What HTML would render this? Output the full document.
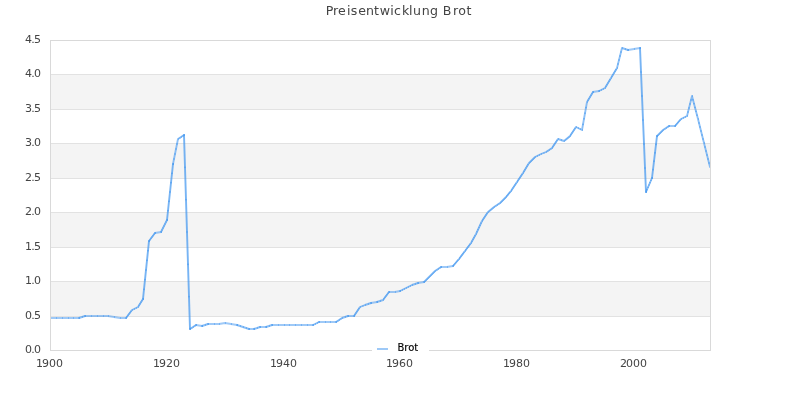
<!DOCTYPE html>
<html lang="de">
<head>
<meta charset="utf-8">
<title>Preisentwicklung Brot</title>
<style>
html,body{margin:0;padding:0;background:#fff;}
body{width:800px;height:400px;overflow:hidden;font-family:"DejaVu Sans","Liberation Sans",sans-serif;}
svg{display:block;}
text{font-family:"DejaVu Sans","Liberation Sans",sans-serif;}
</style>
</head>
<body>
<svg width="800" height="400" viewBox="0 0 800 400">
<rect x="0" y="0" width="800" height="400" fill="#ffffff"/>

<rect x="51" y="75" width="659" height="34" fill="#f4f4f4"/>
<rect x="51" y="144" width="659" height="34" fill="#f4f4f4"/>
<rect x="51" y="213" width="659" height="34" fill="#f4f4f4"/>
<rect x="51" y="282" width="659" height="34" fill="#f4f4f4"/>
<line x1="50.5" y1="316.5" x2="710.5" y2="316.5" stroke="#e2e2e2" stroke-width="1"/>
<line x1="50.5" y1="281.5" x2="710.5" y2="281.5" stroke="#e2e2e2" stroke-width="1"/>
<line x1="50.5" y1="247.5" x2="710.5" y2="247.5" stroke="#e2e2e2" stroke-width="1"/>
<line x1="50.5" y1="212.5" x2="710.5" y2="212.5" stroke="#e2e2e2" stroke-width="1"/>
<line x1="50.5" y1="178.5" x2="710.5" y2="178.5" stroke="#e2e2e2" stroke-width="1"/>
<line x1="50.5" y1="143.5" x2="710.5" y2="143.5" stroke="#e2e2e2" stroke-width="1"/>
<line x1="50.5" y1="109.5" x2="710.5" y2="109.5" stroke="#e2e2e2" stroke-width="1"/>
<line x1="50.5" y1="74.5" x2="710.5" y2="74.5" stroke="#e2e2e2" stroke-width="1"/>
<g fill="none" stroke="#3d94f0" stroke-linejoin="round" stroke-linecap="round"><polyline points="51.0,318 56.0,318 62.0,318 68.0,318 73.0,318 79.0,318" stroke-width="2" stroke-opacity="0.5"/><polyline points="79.0,318 85.0,316" stroke-width="1.85" stroke-opacity="0.6"/><polyline points="85.0,316 91.0,316 97.0,316 103.0,316 108.0,316 114.0,317 120.0,318 126.0,318" stroke-width="2" stroke-opacity="0.5"/><polyline points="126.0,318 132.0,310 138.0,307 143.0,299" stroke-width="1.85" stroke-opacity="0.6"/><polyline points="143.0,299 149.0,241" stroke-width="1.9" stroke-opacity="0.7"/><polyline points="149.0,241 155.0,233" stroke-width="1.85" stroke-opacity="0.6"/><polyline points="155.0,233 161.0,232" stroke-width="2" stroke-opacity="0.5"/><polyline points="161.0,232 167.0,220" stroke-width="1.85" stroke-opacity="0.6"/><polyline points="167.0,220 173.0,164" stroke-width="1.9" stroke-opacity="0.7"/><polyline points="173.0,164 178.0,139 184.0,135" stroke-width="1.85" stroke-opacity="0.6"/><polyline points="184.0,135 190.0,329" stroke-width="1.9" stroke-opacity="0.7"/><polyline points="190.0,329 196.0,325" stroke-width="1.85" stroke-opacity="0.6"/><polyline points="196.0,325 202.0,326" stroke-width="2" stroke-opacity="0.5"/><polyline points="202.0,326 208.0,324" stroke-width="1.85" stroke-opacity="0.6"/><polyline points="208.0,324 214.0,324 219.0,324 225.0,323 231.0,324 237.0,325" stroke-width="2" stroke-opacity="0.5"/><polyline points="237.0,325 243.0,327 249.0,329" stroke-width="1.85" stroke-opacity="0.6"/><polyline points="249.0,329 254.0,329" stroke-width="2" stroke-opacity="0.5"/><polyline points="254.0,329 260.0,327" stroke-width="1.85" stroke-opacity="0.6"/><polyline points="260.0,327 266.0,327" stroke-width="2" stroke-opacity="0.5"/><polyline points="266.0,327 272.0,325" stroke-width="1.85" stroke-opacity="0.6"/><polyline points="272.0,325 278.0,325 284.0,325 289.0,325 295.0,325 301.0,325 307.0,325 313.0,325" stroke-width="2" stroke-opacity="0.5"/><polyline points="313.0,325 319.0,322" stroke-width="1.85" stroke-opacity="0.6"/><polyline points="319.0,322 325.0,322 330.0,322 336.0,322" stroke-width="2" stroke-opacity="0.5"/><polyline points="336.0,322 342.0,318 348.0,316" stroke-width="1.85" stroke-opacity="0.6"/><polyline points="348.0,316 354.0,316" stroke-width="2" stroke-opacity="0.5"/><polyline points="354.0,316 360.0,307 365.0,305 371.0,303" stroke-width="1.85" stroke-opacity="0.6"/><polyline points="371.0,303 377.0,302" stroke-width="2" stroke-opacity="0.5"/><polyline points="377.0,302 383.0,300 389.0,292" stroke-width="1.85" stroke-opacity="0.6"/><polyline points="389.0,292 395.0,292 400.0,291" stroke-width="2" stroke-opacity="0.5"/><polyline points="400.0,291 406.0,288 412.0,285 418.0,283" stroke-width="1.85" stroke-opacity="0.6"/><polyline points="418.0,283 424.0,282" stroke-width="2" stroke-opacity="0.5"/><polyline points="424.0,282 430.0,276 435.0,271 441.0,267" stroke-width="1.85" stroke-opacity="0.6"/><polyline points="441.0,267 447.0,267 453.0,266" stroke-width="2" stroke-opacity="0.5"/><polyline points="453.0,266 459.0,259 465.0,251 471.0,243 476.0,234 482.0,221 488.0,212 494.0,207 500.0,203 506.0,197 511.0,191 517.0,182 523.0,173 529.0,163 535.0,157 541.0,154 546.0,152 552.0,148 558.0,139 564.0,141 570.0,136 576.0,127 582.0,130 587.0,102 593.0,92" stroke-width="1.85" stroke-opacity="0.6"/><polyline points="593.0,92 599.0,91" stroke-width="2" stroke-opacity="0.5"/><polyline points="599.0,91 605.0,88 611.0,78 617.0,68 622.0,48 628.0,50" stroke-width="1.85" stroke-opacity="0.6"/><polyline points="628.0,50 634.0,49 640.0,48" stroke-width="2" stroke-opacity="0.5"/><polyline points="640.0,48 646.0,192" stroke-width="1.9" stroke-opacity="0.7"/><polyline points="646.0,192 652.0,178" stroke-width="1.85" stroke-opacity="0.6"/><polyline points="652.0,178 657.0,136" stroke-width="1.9" stroke-opacity="0.7"/><polyline points="657.0,136 663.0,130 669.0,126" stroke-width="1.85" stroke-opacity="0.6"/><polyline points="669.0,126 675.0,126" stroke-width="2" stroke-opacity="0.5"/><polyline points="675.0,126 681.0,119 687.0,116 692.0,96 698.0,119 704.0,143 710.0,167" stroke-width="1.85" stroke-opacity="0.6"/></g>
<g fill="#3d94f0" fill-opacity="0.4"><rect x="56.00" y="317.00" width="1" height="2"/><rect x="62.00" y="317.00" width="1" height="2"/><rect x="68.00" y="317.00" width="1" height="2"/><rect x="73.00" y="317.00" width="1" height="2"/><rect x="79.00" y="317.00" width="1" height="2"/><rect x="82.00" y="316.00" width="1" height="2"/><rect x="85.00" y="315.00" width="1" height="2"/><rect x="91.00" y="315.00" width="1" height="2"/><rect x="97.00" y="315.00" width="1" height="2"/><rect x="103.00" y="315.00" width="1" height="2"/><rect x="108.00" y="315.00" width="1" height="2"/><rect x="114.00" y="316.00" width="1" height="2"/><rect x="120.00" y="317.00" width="1" height="2"/><rect x="126.00" y="317.00" width="1" height="2"/><rect x="126.00" y="315.97" width="2" height="1.4"/><rect x="127.00" y="314.63" width="2" height="1.4"/><rect x="128.00" y="313.30" width="2" height="1.4"/><rect x="129.00" y="311.97" width="2" height="1.4"/><rect x="130.00" y="310.63" width="2" height="1.4"/><rect x="132.00" y="309.00" width="1" height="2"/><rect x="134.00" y="308.00" width="1" height="2"/><rect x="136.00" y="307.00" width="1" height="2"/><rect x="138.00" y="306.00" width="1" height="2"/><rect x="138.00" y="304.70" width="2" height="1.4"/><rect x="139.00" y="303.10" width="2" height="1.4"/><rect x="140.00" y="301.50" width="2" height="1.4"/><rect x="141.00" y="299.90" width="2" height="1.4"/><rect x="143.00" y="298.00" width="1" height="2"/><rect x="143.00" y="288.63" width="2" height="1.4"/><rect x="144.00" y="278.97" width="2" height="1.4"/><rect x="145.00" y="269.30" width="2" height="1.4"/><rect x="146.00" y="259.63" width="2" height="1.4"/><rect x="147.00" y="249.97" width="2" height="1.4"/><rect x="149.00" y="240.00" width="1" height="2"/><rect x="149.00" y="238.97" width="2" height="1.4"/><rect x="150.00" y="237.63" width="2" height="1.4"/><rect x="151.00" y="236.30" width="2" height="1.4"/><rect x="152.00" y="234.97" width="2" height="1.4"/><rect x="153.00" y="233.63" width="2" height="1.4"/><rect x="155.00" y="232.00" width="1" height="2"/><rect x="161.00" y="231.00" width="1" height="2"/><rect x="161.00" y="229.30" width="2" height="1.4"/><rect x="162.00" y="227.30" width="2" height="1.4"/><rect x="163.00" y="225.30" width="2" height="1.4"/><rect x="164.00" y="223.30" width="2" height="1.4"/><rect x="165.00" y="221.30" width="2" height="1.4"/><rect x="167.00" y="219.00" width="1" height="2"/><rect x="167.00" y="209.97" width="2" height="1.4"/><rect x="168.00" y="200.63" width="2" height="1.4"/><rect x="169.00" y="191.30" width="2" height="1.4"/><rect x="170.00" y="181.97" width="2" height="1.4"/><rect x="171.00" y="172.63" width="2" height="1.4"/><rect x="173.00" y="163.00" width="1" height="2"/><rect x="173.00" y="158.30" width="2" height="1.4"/><rect x="174.00" y="153.30" width="2" height="1.4"/><rect x="175.00" y="148.30" width="2" height="1.4"/><rect x="176.00" y="143.30" width="2" height="1.4"/><rect x="178.00" y="138.00" width="1" height="2"/><rect x="179.50" y="137.00" width="1" height="2"/><rect x="181.00" y="136.00" width="1" height="2"/><rect x="182.50" y="135.00" width="1" height="2"/><rect x="184.00" y="134.00" width="1" height="2"/><rect x="184.00" y="166.63" width="2" height="1.4"/><rect x="185.00" y="198.97" width="2" height="1.4"/><rect x="186.00" y="231.30" width="2" height="1.4"/><rect x="187.00" y="263.63" width="2" height="1.4"/><rect x="188.00" y="295.97" width="2" height="1.4"/><rect x="190.00" y="328.00" width="1" height="2"/><rect x="191.50" y="327.00" width="1" height="2"/><rect x="193.00" y="326.00" width="1" height="2"/><rect x="194.50" y="325.00" width="1" height="2"/><rect x="196.00" y="324.00" width="1" height="2"/><rect x="202.00" y="325.00" width="1" height="2"/><rect x="205.00" y="324.00" width="1" height="2"/><rect x="208.00" y="323.00" width="1" height="2"/><rect x="214.00" y="323.00" width="1" height="2"/><rect x="219.00" y="323.00" width="1" height="2"/><rect x="225.00" y="322.00" width="1" height="2"/><rect x="231.00" y="323.00" width="1" height="2"/><rect x="237.00" y="324.00" width="1" height="2"/><rect x="240.00" y="325.00" width="1" height="2"/><rect x="243.00" y="326.00" width="1" height="2"/><rect x="246.00" y="327.00" width="1" height="2"/><rect x="249.00" y="328.00" width="1" height="2"/><rect x="254.00" y="328.00" width="1" height="2"/><rect x="257.00" y="327.00" width="1" height="2"/><rect x="260.00" y="326.00" width="1" height="2"/><rect x="266.00" y="326.00" width="1" height="2"/><rect x="269.00" y="325.00" width="1" height="2"/><rect x="272.00" y="324.00" width="1" height="2"/><rect x="278.00" y="324.00" width="1" height="2"/><rect x="284.00" y="324.00" width="1" height="2"/><rect x="289.00" y="324.00" width="1" height="2"/><rect x="295.00" y="324.00" width="1" height="2"/><rect x="301.00" y="324.00" width="1" height="2"/><rect x="307.00" y="324.00" width="1" height="2"/><rect x="313.00" y="324.00" width="1" height="2"/><rect x="315.00" y="323.00" width="1" height="2"/><rect x="317.00" y="322.00" width="1" height="2"/><rect x="319.00" y="321.00" width="1" height="2"/><rect x="325.00" y="321.00" width="1" height="2"/><rect x="330.00" y="321.00" width="1" height="2"/><rect x="336.00" y="321.00" width="1" height="2"/><rect x="337.50" y="320.00" width="1" height="2"/><rect x="339.00" y="319.00" width="1" height="2"/><rect x="340.50" y="318.00" width="1" height="2"/><rect x="342.00" y="317.00" width="1" height="2"/><rect x="345.00" y="316.00" width="1" height="2"/><rect x="348.00" y="315.00" width="1" height="2"/><rect x="354.00" y="315.00" width="1" height="2"/><rect x="354.00" y="313.80" width="2" height="1.4"/><rect x="355.00" y="312.30" width="2" height="1.4"/><rect x="356.00" y="310.80" width="2" height="1.4"/><rect x="357.00" y="309.30" width="2" height="1.4"/><rect x="358.00" y="307.80" width="2" height="1.4"/><rect x="360.00" y="306.00" width="1" height="2"/><rect x="362.50" y="305.00" width="1" height="2"/><rect x="365.00" y="304.00" width="1" height="2"/><rect x="368.00" y="303.00" width="1" height="2"/><rect x="371.00" y="302.00" width="1" height="2"/><rect x="377.00" y="301.00" width="1" height="2"/><rect x="380.00" y="300.00" width="1" height="2"/><rect x="383.00" y="299.00" width="1" height="2"/><rect x="383.00" y="297.97" width="2" height="1.4"/><rect x="384.00" y="296.63" width="2" height="1.4"/><rect x="385.00" y="295.30" width="2" height="1.4"/><rect x="386.00" y="293.97" width="2" height="1.4"/><rect x="387.00" y="292.63" width="2" height="1.4"/><rect x="389.00" y="291.00" width="1" height="2"/><rect x="395.00" y="291.00" width="1" height="2"/><rect x="400.00" y="290.00" width="1" height="2"/><rect x="402.00" y="289.00" width="1" height="2"/><rect x="404.00" y="288.00" width="1" height="2"/><rect x="406.00" y="287.00" width="1" height="2"/><rect x="408.00" y="286.00" width="1" height="2"/><rect x="410.00" y="285.00" width="1" height="2"/><rect x="412.00" y="284.00" width="1" height="2"/><rect x="415.00" y="283.00" width="1" height="2"/><rect x="418.00" y="282.00" width="1" height="2"/><rect x="424.00" y="281.00" width="1" height="2"/><rect x="425.00" y="280.00" width="1" height="2"/><rect x="426.00" y="279.00" width="1" height="2"/><rect x="427.00" y="278.00" width="1" height="2"/><rect x="428.00" y="277.00" width="1" height="2"/><rect x="429.00" y="276.00" width="1" height="2"/><rect x="430.00" y="275.00" width="1" height="2"/><rect x="431.00" y="274.00" width="1" height="2"/><rect x="432.00" y="273.00" width="1" height="2"/><rect x="433.00" y="272.00" width="1" height="2"/><rect x="434.00" y="271.00" width="1" height="2"/><rect x="435.00" y="270.00" width="1" height="2"/><rect x="436.50" y="269.00" width="1" height="2"/><rect x="438.00" y="268.00" width="1" height="2"/><rect x="439.50" y="267.00" width="1" height="2"/><rect x="441.00" y="266.00" width="1" height="2"/><rect x="447.00" y="266.00" width="1" height="2"/><rect x="453.00" y="265.00" width="1" height="2"/><rect x="453.00" y="264.13" width="2" height="1.4"/><rect x="454.00" y="262.97" width="2" height="1.4"/><rect x="455.00" y="261.80" width="2" height="1.4"/><rect x="456.00" y="260.63" width="2" height="1.4"/><rect x="457.00" y="259.47" width="2" height="1.4"/><rect x="459.00" y="258.00" width="1" height="2"/><rect x="459.00" y="256.97" width="2" height="1.4"/><rect x="460.00" y="255.63" width="2" height="1.4"/><rect x="461.00" y="254.30" width="2" height="1.4"/><rect x="462.00" y="252.97" width="2" height="1.4"/><rect x="463.00" y="251.63" width="2" height="1.4"/><rect x="465.00" y="250.00" width="1" height="2"/><rect x="465.00" y="248.97" width="2" height="1.4"/><rect x="466.00" y="247.63" width="2" height="1.4"/><rect x="467.00" y="246.30" width="2" height="1.4"/><rect x="468.00" y="244.97" width="2" height="1.4"/><rect x="469.00" y="243.63" width="2" height="1.4"/><rect x="471.00" y="242.00" width="1" height="2"/><rect x="471.00" y="240.50" width="2" height="1.4"/><rect x="472.00" y="238.70" width="2" height="1.4"/><rect x="473.00" y="236.90" width="2" height="1.4"/><rect x="474.00" y="235.10" width="2" height="1.4"/><rect x="476.00" y="233.00" width="1" height="2"/><rect x="476.00" y="231.13" width="2" height="1.4"/><rect x="477.00" y="228.97" width="2" height="1.4"/><rect x="478.00" y="226.80" width="2" height="1.4"/><rect x="479.00" y="224.63" width="2" height="1.4"/><rect x="480.00" y="222.47" width="2" height="1.4"/><rect x="482.00" y="220.00" width="1" height="2"/><rect x="482.00" y="218.80" width="2" height="1.4"/><rect x="483.00" y="217.30" width="2" height="1.4"/><rect x="484.00" y="215.80" width="2" height="1.4"/><rect x="485.00" y="214.30" width="2" height="1.4"/><rect x="486.00" y="212.80" width="2" height="1.4"/><rect x="488.00" y="211.00" width="1" height="2"/><rect x="489.20" y="210.00" width="1" height="2"/><rect x="490.40" y="209.00" width="1" height="2"/><rect x="491.60" y="208.00" width="1" height="2"/><rect x="492.80" y="207.00" width="1" height="2"/><rect x="494.00" y="206.00" width="1" height="2"/><rect x="495.50" y="205.00" width="1" height="2"/><rect x="497.00" y="204.00" width="1" height="2"/><rect x="498.50" y="203.00" width="1" height="2"/><rect x="500.00" y="202.00" width="1" height="2"/><rect x="501.00" y="201.00" width="1" height="2"/><rect x="502.00" y="200.00" width="1" height="2"/><rect x="503.00" y="199.00" width="1" height="2"/><rect x="504.00" y="198.00" width="1" height="2"/><rect x="505.00" y="197.00" width="1" height="2"/><rect x="506.00" y="196.00" width="1" height="2"/><rect x="506.00" y="195.10" width="2" height="1.4"/><rect x="507.00" y="193.90" width="2" height="1.4"/><rect x="508.00" y="192.70" width="2" height="1.4"/><rect x="509.00" y="191.50" width="2" height="1.4"/><rect x="511.00" y="190.00" width="1" height="2"/><rect x="511.00" y="188.80" width="2" height="1.4"/><rect x="512.00" y="187.30" width="2" height="1.4"/><rect x="513.00" y="185.80" width="2" height="1.4"/><rect x="514.00" y="184.30" width="2" height="1.4"/><rect x="515.00" y="182.80" width="2" height="1.4"/><rect x="517.00" y="181.00" width="1" height="2"/><rect x="517.00" y="179.80" width="2" height="1.4"/><rect x="518.00" y="178.30" width="2" height="1.4"/><rect x="519.00" y="176.80" width="2" height="1.4"/><rect x="520.00" y="175.30" width="2" height="1.4"/><rect x="521.00" y="173.80" width="2" height="1.4"/><rect x="523.00" y="172.00" width="1" height="2"/><rect x="523.00" y="170.63" width="2" height="1.4"/><rect x="524.00" y="168.97" width="2" height="1.4"/><rect x="525.00" y="167.30" width="2" height="1.4"/><rect x="526.00" y="165.63" width="2" height="1.4"/><rect x="527.00" y="163.97" width="2" height="1.4"/><rect x="529.00" y="162.00" width="1" height="2"/><rect x="530.00" y="161.00" width="1" height="2"/><rect x="531.00" y="160.00" width="1" height="2"/><rect x="532.00" y="159.00" width="1" height="2"/><rect x="533.00" y="158.00" width="1" height="2"/><rect x="534.00" y="157.00" width="1" height="2"/><rect x="535.00" y="156.00" width="1" height="2"/><rect x="537.00" y="155.00" width="1" height="2"/><rect x="539.00" y="154.00" width="1" height="2"/><rect x="541.00" y="153.00" width="1" height="2"/><rect x="543.50" y="152.00" width="1" height="2"/><rect x="546.00" y="151.00" width="1" height="2"/><rect x="547.50" y="150.00" width="1" height="2"/><rect x="549.00" y="149.00" width="1" height="2"/><rect x="550.50" y="148.00" width="1" height="2"/><rect x="552.00" y="147.00" width="1" height="2"/><rect x="552.00" y="145.80" width="2" height="1.4"/><rect x="553.00" y="144.30" width="2" height="1.4"/><rect x="554.00" y="142.80" width="2" height="1.4"/><rect x="555.00" y="141.30" width="2" height="1.4"/><rect x="556.00" y="139.80" width="2" height="1.4"/><rect x="558.00" y="138.00" width="1" height="2"/><rect x="561.00" y="139.00" width="1" height="2"/><rect x="564.00" y="140.00" width="1" height="2"/><rect x="565.20" y="139.00" width="1" height="2"/><rect x="566.40" y="138.00" width="1" height="2"/><rect x="567.60" y="137.00" width="1" height="2"/><rect x="568.80" y="136.00" width="1" height="2"/><rect x="570.00" y="135.00" width="1" height="2"/><rect x="570.00" y="133.80" width="2" height="1.4"/><rect x="571.00" y="132.30" width="2" height="1.4"/><rect x="572.00" y="130.80" width="2" height="1.4"/><rect x="573.00" y="129.30" width="2" height="1.4"/><rect x="574.00" y="127.80" width="2" height="1.4"/><rect x="576.00" y="126.00" width="1" height="2"/><rect x="578.00" y="127.00" width="1" height="2"/><rect x="580.00" y="128.00" width="1" height="2"/><rect x="582.00" y="129.00" width="1" height="2"/><rect x="582.00" y="123.70" width="2" height="1.4"/><rect x="583.00" y="118.10" width="2" height="1.4"/><rect x="584.00" y="112.50" width="2" height="1.4"/><rect x="585.00" y="106.90" width="2" height="1.4"/><rect x="587.00" y="101.00" width="1" height="2"/><rect x="587.00" y="99.63" width="2" height="1.4"/><rect x="588.00" y="97.97" width="2" height="1.4"/><rect x="589.00" y="96.30" width="2" height="1.4"/><rect x="590.00" y="94.63" width="2" height="1.4"/><rect x="591.00" y="92.97" width="2" height="1.4"/><rect x="593.00" y="91.00" width="1" height="2"/><rect x="599.00" y="90.00" width="1" height="2"/><rect x="601.00" y="89.00" width="1" height="2"/><rect x="603.00" y="88.00" width="1" height="2"/><rect x="605.00" y="87.00" width="1" height="2"/><rect x="605.00" y="85.63" width="2" height="1.4"/><rect x="606.00" y="83.97" width="2" height="1.4"/><rect x="607.00" y="82.30" width="2" height="1.4"/><rect x="608.00" y="80.63" width="2" height="1.4"/><rect x="609.00" y="78.97" width="2" height="1.4"/><rect x="611.00" y="77.00" width="1" height="2"/><rect x="611.00" y="75.63" width="2" height="1.4"/><rect x="612.00" y="73.97" width="2" height="1.4"/><rect x="613.00" y="72.30" width="2" height="1.4"/><rect x="614.00" y="70.63" width="2" height="1.4"/><rect x="615.00" y="68.97" width="2" height="1.4"/><rect x="617.00" y="67.00" width="1" height="2"/><rect x="617.00" y="63.30" width="2" height="1.4"/><rect x="618.00" y="59.30" width="2" height="1.4"/><rect x="619.00" y="55.30" width="2" height="1.4"/><rect x="620.00" y="51.30" width="2" height="1.4"/><rect x="622.00" y="47.00" width="1" height="2"/><rect x="625.00" y="48.00" width="1" height="2"/><rect x="628.00" y="49.00" width="1" height="2"/><rect x="634.00" y="48.00" width="1" height="2"/><rect x="640.00" y="47.00" width="1" height="2"/><rect x="640.00" y="71.30" width="2" height="1.4"/><rect x="641.00" y="95.30" width="2" height="1.4"/><rect x="642.00" y="119.30" width="2" height="1.4"/><rect x="643.00" y="143.30" width="2" height="1.4"/><rect x="644.00" y="167.30" width="2" height="1.4"/><rect x="646.00" y="191.00" width="1" height="2"/><rect x="646.00" y="188.97" width="2" height="1.4"/><rect x="647.00" y="186.63" width="2" height="1.4"/><rect x="648.00" y="184.30" width="2" height="1.4"/><rect x="649.00" y="181.97" width="2" height="1.4"/><rect x="650.00" y="179.63" width="2" height="1.4"/><rect x="652.00" y="177.00" width="1" height="2"/><rect x="652.00" y="168.90" width="2" height="1.4"/><rect x="653.00" y="160.50" width="2" height="1.4"/><rect x="654.00" y="152.10" width="2" height="1.4"/><rect x="655.00" y="143.70" width="2" height="1.4"/><rect x="657.00" y="135.00" width="1" height="2"/><rect x="658.00" y="134.00" width="1" height="2"/><rect x="659.00" y="133.00" width="1" height="2"/><rect x="660.00" y="132.00" width="1" height="2"/><rect x="661.00" y="131.00" width="1" height="2"/><rect x="662.00" y="130.00" width="1" height="2"/><rect x="663.00" y="129.00" width="1" height="2"/><rect x="664.50" y="128.00" width="1" height="2"/><rect x="666.00" y="127.00" width="1" height="2"/><rect x="667.50" y="126.00" width="1" height="2"/><rect x="669.00" y="125.00" width="1" height="2"/><rect x="675.00" y="125.00" width="1" height="2"/><rect x="675.00" y="124.13" width="2" height="1.4"/><rect x="676.00" y="122.97" width="2" height="1.4"/><rect x="677.00" y="121.80" width="2" height="1.4"/><rect x="678.00" y="120.63" width="2" height="1.4"/><rect x="679.00" y="119.47" width="2" height="1.4"/><rect x="681.00" y="118.00" width="1" height="2"/><rect x="683.00" y="117.00" width="1" height="2"/><rect x="685.00" y="116.00" width="1" height="2"/><rect x="687.00" y="115.00" width="1" height="2"/><rect x="687.00" y="111.30" width="2" height="1.4"/><rect x="688.00" y="107.30" width="2" height="1.4"/><rect x="689.00" y="103.30" width="2" height="1.4"/><rect x="690.00" y="99.30" width="2" height="1.4"/><rect x="692.00" y="95.00" width="1" height="2"/><rect x="692.00" y="99.13" width="2" height="1.4"/><rect x="693.00" y="102.97" width="2" height="1.4"/><rect x="694.00" y="106.80" width="2" height="1.4"/><rect x="695.00" y="110.63" width="2" height="1.4"/><rect x="696.00" y="114.47" width="2" height="1.4"/><rect x="698.00" y="118.00" width="1" height="2"/><rect x="698.00" y="122.30" width="2" height="1.4"/><rect x="699.00" y="126.30" width="2" height="1.4"/><rect x="700.00" y="130.30" width="2" height="1.4"/><rect x="701.00" y="134.30" width="2" height="1.4"/><rect x="702.00" y="138.30" width="2" height="1.4"/><rect x="704.00" y="142.00" width="1" height="2"/><rect x="704.00" y="146.30" width="2" height="1.4"/><rect x="705.00" y="150.30" width="2" height="1.4"/><rect x="706.00" y="154.30" width="2" height="1.4"/><rect x="707.00" y="158.30" width="2" height="1.4"/><rect x="708.00" y="162.30" width="2" height="1.4"/><rect x="710.00" y="166.00" width="1" height="2"/></g>
<rect x="50.5" y="40.5" width="660.0" height="310.0" fill="none" stroke="#d9d9d9" stroke-width="1"/>
<text x="25 31.2 34" y="353" font-size="11" fill="#444444">0.0</text>
<text x="25 31.2 34" y="319" font-size="11" fill="#444444">0.5</text>
<text x="25 31.2 34" y="284" font-size="11" fill="#444444">1.0</text>
<text x="25 31.2 34" y="250" font-size="11" fill="#444444">1.5</text>
<text x="25 31.2 34" y="215" font-size="11" fill="#444444">2.0</text>
<text x="25 31.2 34" y="181" font-size="11" fill="#444444">2.5</text>
<text x="25 31.2 34" y="146" font-size="11" fill="#444444">3.0</text>
<text x="25 31.2 34" y="112" font-size="11" fill="#444444">3.5</text>
<text x="25 31.2 34" y="77" font-size="11" fill="#444444">4.0</text>
<text x="25 31.2 34" y="43" font-size="11" fill="#444444">4.5</text>
<text x="36 41.9 48.9 55.9" y="367" font-size="11" fill="#444444">1900</text>
<text x="153 158.9 165.9 172.9" y="367" font-size="11" fill="#444444">1920</text>
<text x="270 275.9 282.9 289.9" y="367" font-size="11" fill="#444444">1940</text>
<text x="386 391.9 398.9 405.9" y="367" font-size="11" fill="#444444">1960</text>
<text x="503 508.9 515.9 522.9" y="367" font-size="11" fill="#444444">1980</text>
<text x="620 625.9 632.9 639.9" y="367" font-size="11" fill="#444444">2000</text>
<text transform="scale(0.97,1)" x="335.82 343.30 348.45 357.73 361.60 369.33 377.32 385.57 391.49 402.32 406.19 414.43 421.65 425.77 434.79 443.30 450.77 456.44 467.01 472.37 480.93" y="15" font-size="13" fill="#444444">Preisentwicklung Brot</text>
<rect x="372" y="340" width="57" height="15" fill="#ffffff"/>
<line x1="377" y1="349" x2="388" y2="349" stroke="#3d94f0" stroke-width="2" stroke-opacity="0.5"/>
<text x="397.4" y="351" font-size="10" fill="#000000" stroke="#000000" stroke-width="0.15">Brot</text>
</svg>
</body>
</html>
